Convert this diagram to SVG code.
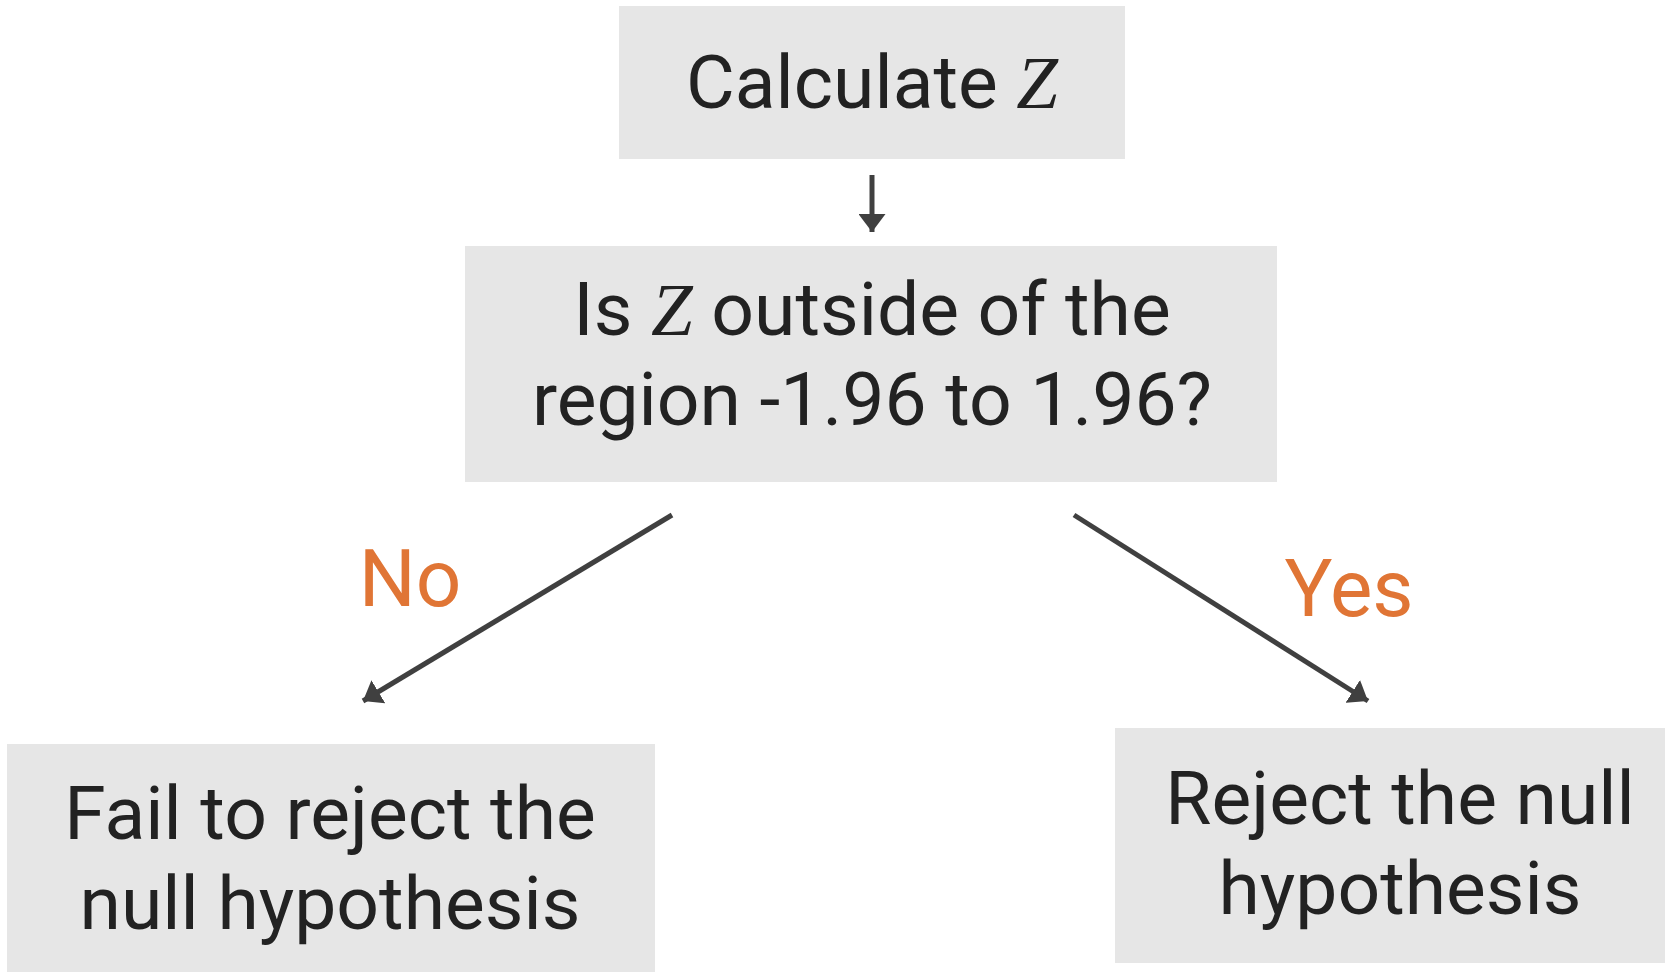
<svg xmlns="http://www.w3.org/2000/svg" width="1665" height="972" viewBox="0 0 1665 972">
<defs>
<style>
.box{fill:#e6e6e6;}
.t{font-family:Roboto,"Liberation Sans",sans-serif;font-size:75px;fill:#222222;text-anchor:middle;}
.z{font-family:"Liberation Serif",serif;font-style:italic;}
.lbl{font-family:Roboto,"Liberation Sans",sans-serif;font-size:80px;fill:#e07535;text-anchor:middle;}
.conn{stroke:#404040;stroke-width:5;fill:none;marker-end:url(#ah);}
</style>
<marker id="ah" viewBox="0 0 18 27" refX="18" refY="13.5" markerWidth="18" markerHeight="27" markerUnits="userSpaceOnUse" orient="auto">
<path d="M0,0 L18,13.5 L0,27 Z" fill="#404040"/>
</marker>
</defs>
<rect width="1665" height="972" fill="#ffffff"/>
<g id="calc">
<rect class="box" x="619" y="6" width="506" height="153"/>
<text class="t" x="872" y="108">Calculate <tspan class="z">Z</tspan></text>
</g>
<g id="decision">
<rect class="box" x="465" y="246" width="812" height="236"/>
<text class="t" x="872" y="335">Is <tspan class="z">Z</tspan> outside of the</text>
<text class="t" x="872" y="425">region -1.96 to 1.96?</text>
</g>
<g id="fail">
<rect class="box" x="7" y="744" width="648" height="240"/>
<text class="t" x="330" y="839">Fail to reject the</text>
<text class="t" x="330" y="929">null hypothesis</text>
</g>
<g id="reject">
<rect class="box" x="1115" y="728" width="580" height="235"/>
<text class="t" x="1400" y="824">Reject the null</text>
<text class="t" x="1400" y="914">hypothesis</text>
</g>
<g id="connectors">
<line class="conn" x1="872" y1="175" x2="872" y2="232"/>
<line class="conn" x1="672" y1="515" x2="363" y2="701"/>
<line class="conn" x1="1074" y1="515" x2="1368" y2="701"/>
<text class="lbl" x="410" y="606">No</text>
<text class="lbl" x="1349" y="616">Yes</text>
</g>
</svg>
